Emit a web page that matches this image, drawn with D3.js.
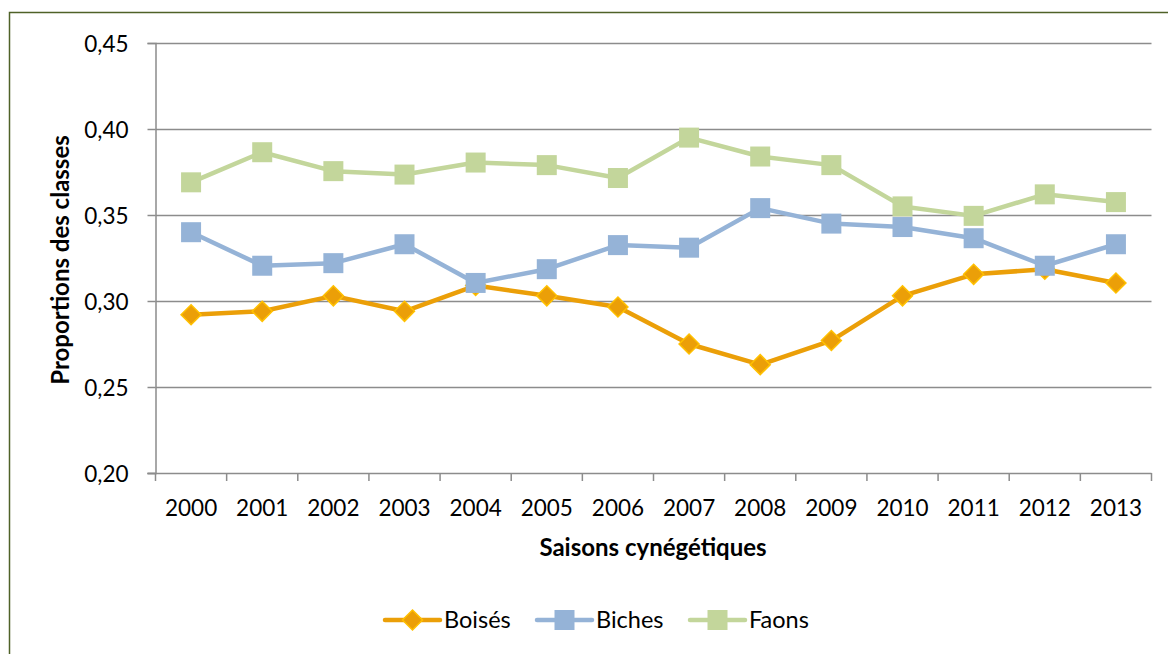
<!DOCTYPE html>
<html>
<head>
<meta charset="utf-8">
<script src="https://d3js.org/d3.v7.min.js"></script>
<style>
  body { margin: 0; background: #fff; }
  svg text { font-family: Lato, "Open Sans", sans-serif; fill: #000; }
</style>
</head>
<body>
<svg id="chart" width="1168" height="654"></svg>
<script>
// data
const years = ["2000","2001","2002","2003","2004","2005","2006","2007","2008","2009","2010","2011","2012","2013"];
const boises = [0.292, 0.294, 0.303, 0.294, 0.309, 0.303, 0.2965, 0.275, 0.263, 0.277, 0.303, 0.3155, 0.3185, 0.3105];
const biches = [0.340, 0.3205, 0.322, 0.333, 0.3105, 0.3185, 0.3325, 0.331, 0.354, 0.345, 0.343, 0.3365, 0.3205, 0.333];
const faons = [0.369, 0.3865, 0.3755, 0.3735, 0.3805, 0.379, 0.3715, 0.395, 0.384, 0.379, 0.355, 0.3495, 0.362, 0.3575];
const yTicks = [0.20, 0.25, 0.30, 0.35, 0.40, 0.45];

const series = [
  { name: "Boisés", values: boises, color: "#EB9F08", marker: "diamond", fill: "#EB9F08", stroke: "#FFC000" },
  { name: "Biches", values: biches, color: "#95B3D7", marker: "square", fill: "#95B3D7", stroke: "#95B3D7" },
  { name: "Faons", values: faons, color: "#C3D69B", marker: "square", fill: "#C3D69B", stroke: "#C3D69B" }
];

var svg = d3.select("#chart");

// outer frame
svg.append("rect")
  .attr("x", 9.5).attr("y", 12.5)
  .attr("width", 1200).attr("height", 700)
  .attr("fill", "none")
  .attr("stroke", "#4F6228")
  .attr("stroke-width", 1.5);

var plotLeft = 155.5, plotRight = 1151.5, plotTop = 43, plotBottom = 473;

var x = d3.scaleBand().domain(years).range([plotLeft, plotRight]);
var y = d3.scaleLinear().domain([0.20, 0.45]).range([plotBottom, plotTop]);

// gridlines
svg.append("g")
  .selectAll("line")
  .data(yTicks.slice(1))
  .enter().append("line")
    .attr("x1", plotLeft).attr("x2", plotRight)
    .attr("y1", d => Math.round(y(d)) + 0.5)
    .attr("y2", d => Math.round(y(d)) + 0.5)
    .attr("stroke", "#8C8C8C")
    .attr("stroke-width", 1.5);

// y axis
var yAxis = d3.axisLeft(y)
  .tickValues(yTicks)
  .tickSize(8)
  .tickPadding(19)
  .tickFormat(d => d3.format(".2f")(d).replace(".", ","));
var gy = svg.append("g")
  .attr("transform", "translate(" + plotLeft + ",0)")
  .call(yAxis);
gy.select(".domain").attr("stroke", "#8C8C8C").attr("stroke-width", 1.5);
gy.selectAll(".tick line").attr("stroke", "#8C8C8C").attr("stroke-width", 1.5);
gy.selectAll(".tick text").style("font-size", "22.5px").attr("dy", "0.36em");

// x axis: ticks between categories
var xAxis = d3.axisBottom(x).tickSize(0).tickPadding(27);
var gx = svg.append("g")
  .attr("transform", "translate(0," + (plotBottom + 0.5) + ")")
  .call(xAxis);
gx.select(".domain").remove();
gx.selectAll(".tick text").style("font-size", "22.5px");
svg.append("line")
  .attr("x1", plotLeft - 8).attr("x2", plotRight)
  .attr("y1", plotBottom + 0.5).attr("y2", plotBottom + 0.5)
  .attr("stroke", "#8C8C8C").attr("stroke-width", 1.5);
svg.append("g")
  .selectAll("line")
  .data(years.concat(["end"]))
  .enter().append("line")
    .attr("x1", (d, i) => plotLeft + i * x.bandwidth())
    .attr("x2", (d, i) => plotLeft + i * x.bandwidth())
    .attr("y1", plotBottom).attr("y2", plotBottom + 8)
    .attr("stroke", "#8C8C8C").attr("stroke-width", 1.5);

// axis titles
svg.append("text")
  .attr("transform", "translate(69," + ((plotTop + plotBottom) / 2 + 2) + ") rotate(-90)")
  .attr("text-anchor", "middle")
  .style("font-size", "24px")
  .style("font-weight", "bold")
  .text("Proportions des classes");
svg.append("text")
  .attr("x", 653)
  .attr("y", 556)
  .attr("text-anchor", "middle")
  .style("font-size", "24px")
  .style("font-weight", "bold")
  .text("Saisons cynégétiques");

var line = d3.line()
  .x((d, i) => x(years[i]) + x.bandwidth() / 2)
  .y(d => y(d));

function drawMarker(g, s, cx, cy) {
  if (s.marker === "diamond") {
    g.append("path")
      .attr("d", "M" + cx + "," + (cy - 10) + "L" + (cx + 10) + "," + cy + "L" + cx + "," + (cy + 10) + "L" + (cx - 10) + "," + cy + "Z")
      .attr("fill", s.fill).attr("stroke", s.stroke).attr("stroke-width", 1.5);
  } else {
    g.append("rect")
      .attr("x", cx - 10).attr("y", cy - 10)
      .attr("width", 20).attr("height", 20)
      .attr("fill", s.fill);
  }
}

// series, drawn bottom to top
series.forEach(function (s) {
  var g = svg.append("g");
  g.append("path")
    .datum(s.values)
    .attr("d", line)
    .attr("fill", "none")
    .attr("stroke", s.color)
    .attr("stroke-width", 4.5)
    .attr("stroke-linejoin", "round");
  s.values.forEach(function (v, i) {
    drawMarker(g, s, x(years[i]) + x.bandwidth() / 2, y(v));
  });
});

// legend
var legendX = [385, 537, 690];
series.forEach(function (s, i) {
  var g = svg.append("g");
  var x0 = legendX[i], ly = 620;
  g.append("line")
    .attr("x1", x0).attr("x2", x0 + 55)
    .attr("y1", ly).attr("y2", ly)
    .attr("stroke", s.color).attr("stroke-width", 4.5)
    .attr("stroke-linecap", "round");
  drawMarker(g, s, x0 + 27.5, ly);
  g.append("text")
    .attr("x", x0 + 59).attr("y", ly + 8)
    .style("font-size", "23.5px")
    .text(s.name);
});
</script>
</body>
</html>
